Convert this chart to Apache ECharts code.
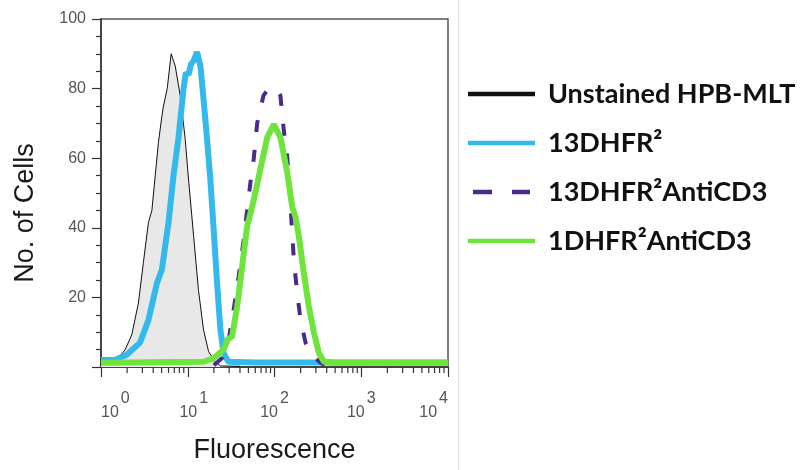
<!DOCTYPE html>
<html>
<head>
<meta charset="utf-8">
<script src="https://cdn.jsdelivr.net/npm/echarts@6/dist/echarts.min.js"></script>
<style>
html,body{margin:0;padding:0;background:#fff;}
#chart{width:806px;height:470px;}
</style>
</head>
<body>
<div id="chart"></div>
<script>
// Series names
const seriesNames = ['Unstained HPB-MLT', '13DHFR²', '13DHFR²AntiCD3', '1DHFR²AntiCD3'];

// [fluorescence, cell count]
const unstained = [[1,1.5],[1.4,1.8],[1.58,2.6],[1.89,4.9],[2.26,9.2],[2.7,18.4],[3.08,30],[3.52,41.5],[3.86,45],[4.59,64.5],[5.03,72],[5.25,75],[5.8,80],[6.44,90],[7.17,86.5],[8.19,78],[9.36,65.4],[10.2,54],[11.7,37.5],[13.3,22],[15.2,10.7],[17.4,4.4],[20.8,1.5],[23.8,0.3],[40,0.2]];
const dhfr13 = [[1,2],[1.45,2],[1.98,3.5],[2.82,7],[3.52,13.5],[4.4,24],[5.03,28],[6.0,41.5],[6.85,55],[7.83,66],[8.94,80],[9.5,84.6],[10.2,84],[10.9,87],[11.7,88],[12.8,90.5],[14.0,86.5],[15.2,77],[16.7,65.4],[18.2,54],[19.9,39.5],[21.8,24],[23.8,10.7],[25.9,4],[29.4,1.5],[60,1.3],[300,1.3],[10000,1.3]];
const dhfr13Anti = [[20,0.5],[24.9,2.6],[29.6,7.8],[33.8,16.4],[38.6,26],[44.2,36.6],[48.3,45],[52.8,53],[57.7,60],[63.1,70],[74.6,78],[85.3,80],[94.8,80],[105,80],[117,78],[128,68],[140,60.6],[150,50],[167,30.8],[183,21],[200,13.5],[228,7],[285,3],[340,1.2],[380,0.6]];
const dhfr1Anti = [[1,1.2],[15.2,1.5],[19.9,2.5],[25.9,5],[29,8],[32.4,8.7],[37.1,17.4],[42.4,29],[48.3,40.4],[57.7,48],[68.9,57],[82.4,66],[98.2,69.7],[117,66],[140,56],[160,46],[175,43],[191,37.5],[218,27],[249,17.4],[285,9.8],[325,4],[372,1.5],[500,1.2],[10000,1.2]];

// Axis tick values
const yTickLabels = [20, 40, 60, 80, 100];
const xMinorTicks = [2,3,4,5,6,7,8,9,20,30,40,50,60,70,80,90,200,300,400,500,600,700,800,900,2000,3000,4000,5000,6000,7000,8000,9000];

const colors = ['#111111', '#33b9ec', '#4a2a8a', '#6ee43c'];

const solidIcon = 'path://M0,0H67V4.5H0Z';
const dashIcon = 'path://M0,0H0.01V4.5H0Z M5,0H24V4.5H5Z M44,0H62V4.5H44Z M66.99,0H67V4.5H66.99Z';

const chart = echarts.init(document.getElementById('chart'), null, {renderer: 'canvas'});

const labelBase = {fontFamily: 'Liberation Sans', fontSize: 16, color: '#555'};

const option = {
  backgroundColor: '#ffffff',
  animation: false,
  grid: {left: 101, right: 358, top: 19, bottom: 103, show: true, borderColor: '#555', borderWidth: 1.5, backgroundColor: 'transparent'},
  legend: {
    orient: 'vertical', left: 463, top: 74,
    itemWidth: 67, itemHeight: 4.5, itemGap: 19,
    textStyle: {fontFamily: 'Lato', fontWeight: 'bold', fontSize: 27, color: '#111', padding: [0,0,0,8], lineHeight: 30},
    data: [
      {name: seriesNames[0], icon: solidIcon},
      {name: seriesNames[1], icon: solidIcon},
      {name: seriesNames[2], icon: dashIcon},
      {name: seriesNames[3], icon: solidIcon}
    ]
  },
  xAxis: {
    type: 'log', logBase: 10, min: 1, max: 10000,
    name: 'Fluorescence', nameLocation: 'middle', nameGap: 70,
    nameTextStyle: {fontFamily: 'Liberation Sans', fontSize: 27, color: '#1a1a1a'},
    axisLine: {lineStyle: {color: '#333', width: 1.5}},
    axisTick: {show: true, length: 10, lineStyle: {color: '#333', width: 1.2}},
    splitLine: {show: false},
    axisLabel: {
      margin: 24,
      alignMinLabel: 'left', alignMaxLabel: 'right',
      formatter: function (v) {
        const e = Math.round(Math.log10(v));
        const pre = e === 1 ? '{p|}' : '';
        return pre + '{b|10}{s|' + e + '}';
      },
      rich: {
        p: Object.assign({}, labelBase, {width: 12, lineHeight: 30}),
        b: Object.assign({}, labelBase, {lineHeight: 30, verticalAlign: 'bottom'}),
        s: Object.assign({}, labelBase, {lineHeight: 16, verticalAlign: 'top', padding: [0,0,0,2]})
      }
    }
  },
  yAxis: {
    type: 'value', min: 0, max: 100, interval: 20,
    name: 'No. of Cells', nameLocation: 'middle', nameGap: 62,
    nameTextStyle: {fontFamily: 'Liberation Sans', fontSize: 27, color: '#1a1a1a', padding: [0, 40, 0, 0]},
    axisLine: {show: true, lineStyle: {color: '#333', width: 1.5}},
    axisTick: {show: true, length: 9, lineStyle: {color: '#333', width: 1.2}},
    minorTick: {show: true, splitNumber: 4, length: 5, lineStyle: {color: '#333', width: 1.2}},
    splitLine: {show: false},
    axisLabel: {
      margin: 15, fontFamily: 'Liberation Sans', fontSize: 16, color: '#555',
      formatter: function (v) { return yTickLabels.indexOf(v) >= 0 ? String(v) : ''; }
    }
  },
  series: [
    {
      name: seriesNames[0], type: 'line', data: unstained, symbol: 'none', z: 2,
      lineStyle: {color: colors[0], width: 1}, itemStyle: {color: colors[0]},
      areaStyle: {color: '#e8e8e8', opacity: 1}
    },
    {
      name: seriesNames[1], type: 'line', data: dhfr13, symbol: 'none', z: 3,
      lineStyle: {color: colors[1], width: 6}, itemStyle: {color: colors[1]}
    },
    {
      name: seriesNames[2], type: 'line', data: dhfr13Anti, symbol: 'none', z: 4,
      lineStyle: {color: colors[2], width: 4, type: [12, 18]}, itemStyle: {color: colors[2]}
    },
    {
      name: seriesNames[3], type: 'line', data: dhfr1Anti, symbol: 'none', z: 5,
      lineStyle: {color: colors[3], width: 6}, itemStyle: {color: colors[3]}
    },
    {
      name: 'minorTicks', type: 'custom', clip: false, silent: true, z: 6,
      data: xMinorTicks.map(v => [v, 0]),
      renderItem: function (params, api) {
        const p = api.coord([api.value(0), 0]);
        return {type: 'line', shape: {x1: p[0], y1: p[1], x2: p[0], y2: p[1] + 6}, style: {stroke: '#333', lineWidth: 1.2}};
      }
    }
  ],
  graphic: [
    {type: 'line', shape: {x1: 458.5, y1: 0, x2: 458.5, y2: 470}, style: {stroke: '#e2e2e2', lineWidth: 1}}
  ]
};
chart.setOption(option);
</script>
</body>
</html>
